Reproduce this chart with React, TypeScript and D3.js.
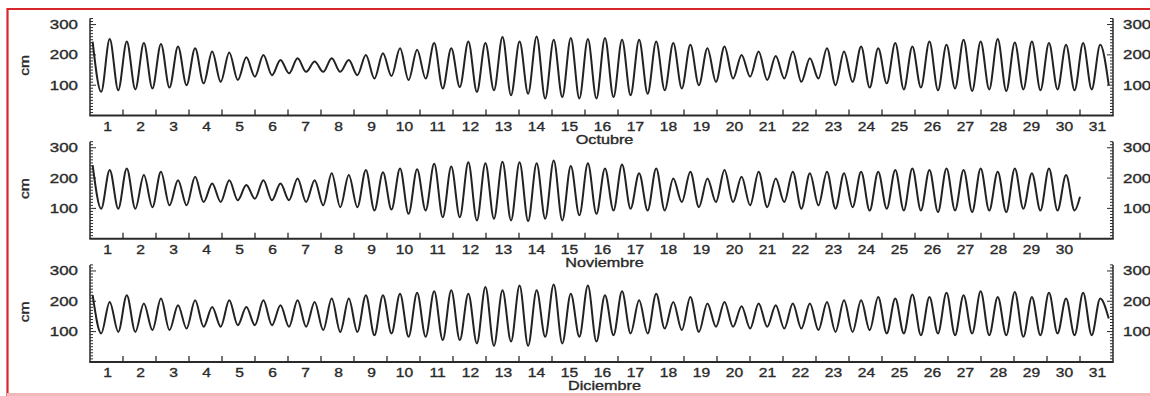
import React, { useRef, useEffect } from "react";
import { select, scaleLinear, line, curveMonotoneX, range } from "d3";

const months = ["Octubre", "Noviembre", "Diciembre"];
const monthDays = [31, 30, 31];
const yLabels = [100, 200, 300];

// pleamares y bajamares (cm), alternating, first high water near day 0.08
const octHigh = [244, 252, 244, 239, 236, 228, 222, 211, 208, 192, 200, 183, 189, 178, 189, 183, 200, 205, 222, 217,
  239, 222, 244, 239, 259, 244, 261, 250, 256, 252, 256, 250, 250, 244, 239, 233, 222, 228, 200, 211,
  196, 211, 189, 222, 211, 228, 222, 239, 228, 244, 233, 250, 244, 252, 241, 244, 239, 233, 239, 233];
const octLow = [78, 83, 86, 89, 92, 100, 106, 111, 117, 128, 133, 139, 144, 144, 144, 133, 122, 130, 117, 122,
  89, 94, 78, 83, 67, 72, 56, 61, 56, 56, 61, 67, 72, 83, 89, 100, 111, 122, 128, 117,
  122, 111, 122, 100, 111, 92, 106, 86, 92, 83, 89, 81, 86, 81, 86, 83, 86, 83, 86, 100];
const octTail: number[] = [];

const novHigh = [243, 227, 232, 210, 221, 193, 204, 182, 193, 177, 193, 182, 199, 193, 216, 210, 227, 219, 232, 229,
  247, 238, 252, 249, 254, 252, 249, 258, 240, 249, 232, 245, 216, 232, 199, 221, 199, 227, 204, 221,
  199, 221, 216, 221, 216, 221, 221, 227, 232, 227, 232, 227, 232, 221, 232, 216, 232, 210];
const novLow = [99, 99, 99, 104, 110, 110, 121, 121, 127, 132, 127, 127, 121, 110, 104, 104, 93, 96, 82, 93,
  71, 71, 60, 66, 60, 58, 66, 60, 77, 82, 93, 99, 93, 93, 121, 104, 121, 121, 110, 104,
  121, 99, 110, 99, 104, 93, 99, 93, 93, 88, 93, 88, 93, 88, 99, 93, 93, 93];
const novTail = [138];

const decHigh = [220, 198, 220, 193, 209, 187, 203, 181, 203, 181, 203, 187, 203, 198, 209, 209, 220, 220, 225, 228,
  233, 236, 225, 247, 236, 252, 236, 255, 225, 252, 220, 233, 203, 225, 198, 214, 193, 198, 184, 193,
  187, 193, 193, 198, 203, 203, 214, 209, 222, 214, 228, 220, 233, 214, 231, 214, 228, 209, 228, 209];
const decLow = [94, 99, 99, 105, 105, 110, 116, 116, 121, 121, 121, 116, 116, 105, 99, 99, 88, 94, 83, 83,
  72, 72, 61, 53, 67, 53, 83, 61, 83, 67, 88, 94, 94, 110, 105, 99, 116, 116, 110, 116,
  110, 110, 105, 99, 99, 105, 94, 94, 88, 94, 88, 94, 88, 88, 83, 88, 94, 88, 88, 143];
const decTail: number[] = [];

const firstTide = 0.08;   // day of the first high water
const halfTide = 0.25875; // days from high to low water

const highs = [octHigh, novHigh, decHigh];
const lows = [octLow, novLow, decLow];
const tails = [octTail, novTail, decTail];

const buildSeries = (m: number) => {
  const pts: { t: number; v: number }[] = [];
  highs[m].forEach((h, i) => {
    pts.push({ t: firstTide + 2 * i * halfTide, v: h });
    if (lows[m][i] !== undefined) pts.push({ t: firstTide + (2 * i + 1) * halfTide, v: lows[m][i] });
  });
  tails[m].forEach(v => pts.push({ t: monthDays[m], v }));
  return pts;
};

const font = "'Liberation Sans', Arial, sans-serif";

const App = () => {
  const svgRef = useRef<SVGSVGElement>(null);

  useEffect(() => {
    const svg = select(svgRef.current);
    svg.selectAll("*").remove();

    svg.append("rect").attr("width", 1150).attr("height", 396).attr("fill", "#fff");

    const x = scaleLinear().domain([0, 31]).range([90, 1113]);
    const ink = "#2a2a2a";

    const addText = (g: any, tx: number, ty: number, txt: string, anchor: string, size: number, sx: number, rot = 0) => {
      g.append("text")
        .attr("transform", `translate(${tx},${ty}) rotate(${rot}) scale(${sx},1)`)
        .attr("text-anchor", anchor)
        .attr("font-family", font)
        .attr("font-size", size)
        .attr("fill", ink)
        .attr("stroke", ink)
        .attr("stroke-width", 0.35)
        .text(txt);
    };

    months.forEach((month, m) => {
      const top = 18.5 + m * 123.2;
      const bottom = top + 97;
      const y = scaleLinear().domain([0, 320]).range([bottom, top]);
      const g = svg.append("g");

      // axes
      g.append("line").attr("x1", x(0)).attr("x2", x(0)).attr("y1", top).attr("y2", bottom)
        .attr("stroke", ink).attr("stroke-width", 1.5);
      g.append("line").attr("x1", x(31)).attr("x2", x(31)).attr("y1", top).attr("y2", bottom)
        .attr("stroke", ink).attr("stroke-width", 1.5);
      g.append("line").attr("x1", x(0) - 0.7).attr("x2", x(31) + 0.7).attr("y1", bottom).attr("y2", bottom)
        .attr("stroke", ink).attr("stroke-width", 2);

      // y ticks, both sides, pointing inwards
      range(10, 321, 10).forEach(v => {
        const len = v % 100 === 0 ? 6 : 3;
        g.append("line").attr("x1", x(0)).attr("x2", x(0) + len).attr("y1", y(v)).attr("y2", y(v))
          .attr("stroke", ink).attr("stroke-width", 1);
        g.append("line").attr("x1", x(31)).attr("x2", x(31) - len).attr("y1", y(v)).attr("y2", y(v))
          .attr("stroke", ink).attr("stroke-width", 1);
      });
      yLabels.forEach(v => {
        addText(g, x(0) - 12, y(v) + 4.5, String(v), "end", 13, 1.3);
        addText(g, x(31) + 10, y(v) + 4.5, String(v), "start", 13, 1.3);
      });
      addText(g, 29, y(165), "cm", "middle", 12, 1.3, -90);

      // day ticks and labels
      range(1, 31).forEach(d => {
        g.append("line").attr("x1", x(d)).attr("x2", x(d)).attr("y1", bottom).attr("y2", bottom - 6)
          .attr("stroke", ink).attr("stroke-width", 1.3);
      });
      range(1, monthDays[m] + 1).forEach(d => {
        addText(g, x(d - 0.5) + 1, bottom + 15, String(d), "middle", 13, 1.2);
      });
      addText(g, (x(0) + x(31)) / 2 + 3, bottom + 28.5, month, "middle", 12, 1.35);

      // tide curve
      const path = line<{ t: number; v: number }>()
        .x(d => x(d.t))
        .y(d => y(d.v))
        .curve(curveMonotoneX);
      g.append("path")
        .datum(buildSeries(m))
        .attr("d", path)
        .attr("fill", "none")
        .attr("stroke", "#222")
        .attr("stroke-width", 2)
        .attr("stroke-linejoin", "round");
    });

    // red frame of the original picture
    svg.append("line").attr("x1", 7.5).attr("x2", 7.5).attr("y1", 8).attr("y2", 396)
      .attr("stroke", "#d9262c").attr("stroke-width", 2.2);
    svg.append("line").attr("x1", 7).attr("x2", 1150).attr("y1", 9).attr("y2", 9)
      .attr("stroke", "#d9262c").attr("stroke-width", 2.2);
    svg.append("line").attr("x1", 7).attr("x2", 1150).attr("y1", 394.5).attr("y2", 394.5)
      .attr("stroke", "#f3b9b9").attr("stroke-width", 3);
  }, []);

  return (
    <svg ref={svgRef} width={1150} height={396}
      style={{ position: "absolute", left: 0, top: 0, display: "block" }} />
  );
};

export default App;
